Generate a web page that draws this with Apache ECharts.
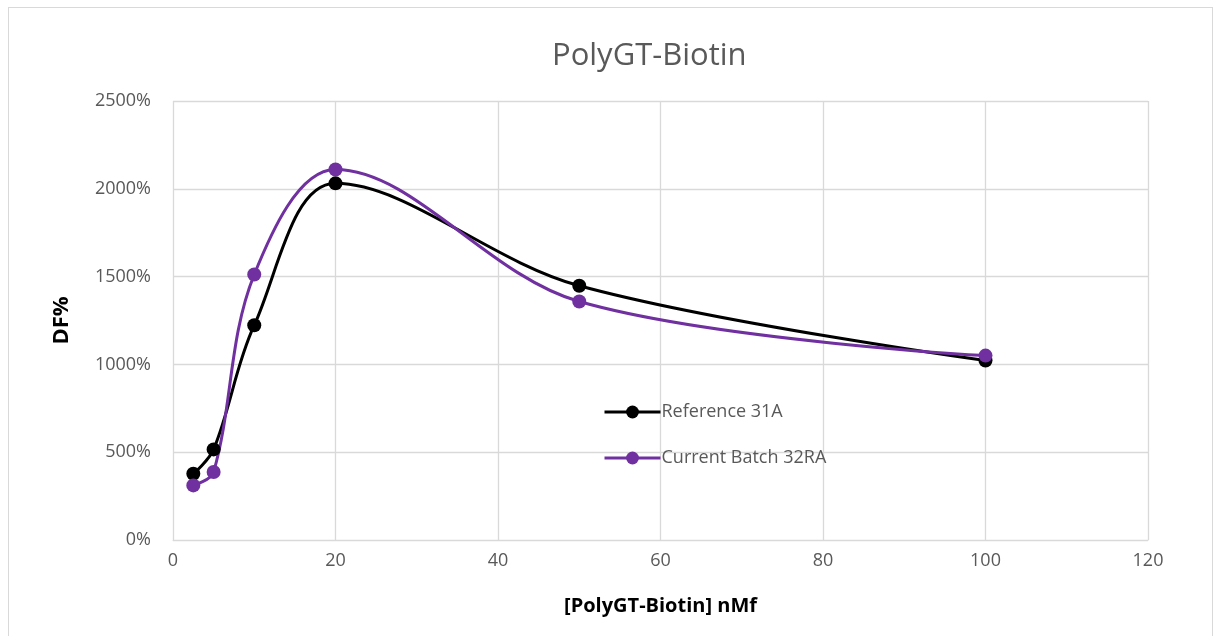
<!DOCTYPE html>
<html>
<head>
<meta charset="utf-8">
<script src="https://cdn.jsdelivr.net/npm/echarts@6/dist/echarts.min.js"></script>
<style>
  html, body { margin: 0; padding: 0; background: #fff; }
  #frame { position: absolute; left: 8px; top: 7px; width: 1205px; height: 640px; border: 1px solid #d9d9d9; box-sizing: border-box; }
  #main { position: absolute; left: 0; top: 0; width: 1215px; height: 636px; }
</style>
</head>
<body>
<div id="frame"></div>
<div id="main"></div>
<script>
// concentrations (nMf)
var conc = [2.5, 5, 10, 20, 50, 100];
// DF% values
var refValues = [377, 516, 1223, 2031, 1448, 1022];
var batchValues = [311, 387, 1512, 2110, 1358, 1050];
var seriesNames = ['Reference 31A', 'Current Batch 32RA'];
var colors = ['#000000', '#7030a0'];

var pairs = function (xs, ys) {
  var res = [];
  for (var i = 0; i < xs.length; i++) {
    res.push([xs[i], ys[i]]);
  }
  return res;
};

var chartDom = document.getElementById('main');
var myChart = echarts.init(chartDom);
var fontFam = '"Open Sans", "Noto Sans", sans-serif';

var option = {
  animation: false,
  textStyle: { fontFamily: fontFam },
  title: {
    text: 'PolyGT-Biotin',
    left: 547,
    top: 36,
    textStyle: { color: '#595959', fontSize: 31, fontWeight: 'normal', fontFamily: fontFam }
  },
  legend: {
    orient: 'vertical',
    left: 598,
    top: 398,
    itemGap: 28,
    itemWidth: 56,
    itemHeight: 16,
    data: seriesNames,
    lineStyle: { width: 3 },
    textStyle: { color: '#595959', fontSize: 18, padding: [0, 0, 0, -4] }
  },
  grid: { left: 173, right: 67, top: 101, bottom: 96 },
  xAxis: {
    type: 'value',
    min: 0,
    max: 120,
    interval: 20,
    name: '[PolyGT-Biotin] nMf',
    nameLocation: 'middle',
    nameGap: 56,
    nameTextStyle: { color: '#000', fontSize: 20, fontWeight: 'bold' },
    axisLine: { show: true, lineStyle: { color: '#d9d9d9' } },
    axisTick: { show: false },
    axisLabel: { color: '#595959', fontSize: 18, margin: 12 },
    splitLine: { show: true, lineStyle: { color: '#d9d9d9', width: 1.3 } }
  },
  yAxis: {
    type: 'value',
    min: 0,
    max: 2500,
    interval: 500,
    name: 'DF%',
    nameLocation: 'middle',
    nameGap: 100,
    nameTextStyle: { color: '#000', fontSize: 22, fontWeight: 'bold' },
    axisLine: { show: false },
    axisTick: { show: false },
    axisLabel: {
      color: '#595959',
      fontSize: 18,
      margin: 22,
      formatter: function (v) { return v + '%'; }
    },
    splitLine: { show: true, lineStyle: { color: '#d9d9d9', width: 1.3 } }
  },
  series: [
    {
      name: seriesNames[0],
      type: 'line',
      smooth: 0.35,
      symbol: 'circle',
      symbolSize: 14,
      lineStyle: { color: colors[0], width: 3 },
      itemStyle: { color: colors[0] },
      data: pairs(conc, refValues)
    },
    {
      name: seriesNames[1],
      type: 'line',
      smooth: 0.35,
      symbol: 'circle',
      symbolSize: 14,
      lineStyle: { color: colors[1], width: 3 },
      itemStyle: { color: colors[1] },
      data: pairs(conc, batchValues)
    }
  ]
};

option && myChart.setOption(option);
</script>
</body>
</html>
